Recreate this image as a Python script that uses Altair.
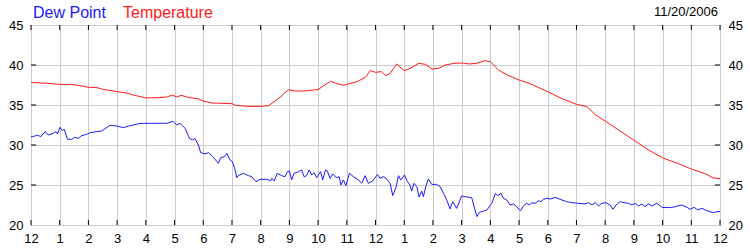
import altair as alt
import pandas as pd

# ---- data (hours since midnight, values in degrees F) ----
TEMP_HOURS = [0, 0.58, 1.0, 1.35, 1.58, 2.0, 2.27, 2.5, 3.0, 3.27, 3.66, 4.0, 4.43, 4.74, 4.92, 5.08, 5.23,
              5.51, 5.81, 6.0, 6.28, 7.0, 7.12, 7.58, 8.0, 8.28, 8.66, 8.97, 9.2, 9.51, 10.0, 10.2, 10.43,
              10.66, 10.89, 11.0, 11.36, 11.66, 11.82, 12.0, 12.2, 12.36, 12.51, 12.74, 13.0, 13.2, 13.51,
              13.74, 13.97, 14.2, 14.43, 14.74, 15.0, 15.28, 15.51, 15.82, 16.0, 16.28, 16.59, 17.0, 17.36,
              17.67, 18.0, 18.43, 19.0, 19.36, 19.67, 20.0, 20.5, 21.0, 21.5, 22.0, 22.6, 23.0, 23.5,
              23.75, 24.0]
TEMP_VALUES = [37.83, 37.71, 37.58, 37.58, 37.5, 37.21, 37.21, 36.96, 36.67, 36.54, 36.17, 35.88, 35.92,
               36.0, 36.25, 36.0, 36.21, 35.92, 35.79, 35.5, 35.25, 35.17, 34.96, 34.83, 34.83, 34.92,
               35.92, 36.92, 36.75, 36.75, 36.92, 37.42, 37.96, 37.67, 37.46, 37.58, 37.92, 38.5, 39.29,
               39.08, 39.17, 38.67, 38.96, 40.13, 39.29, 39.58, 40.21, 40.08, 39.5, 39.58, 40.0, 40.21,
               40.25, 40.13, 40.21, 40.54, 40.42, 39.38, 38.75, 38.13, 37.7, 37.2, 36.67, 35.9, 35.08,
               34.8, 33.75, 33.0, 31.8, 30.6, 29.4, 28.4, 27.6, 27.0, 26.4, 25.9, 25.8]

DEW_HOURS = [0, 0.08, 0.22, 0.34, 0.49, 0.6, 0.78, 0.87, 0.92, 1.01, 1.09, 1.16, 1.27, 1.42, 1.53, 1.65,
             1.77, 1.94, 2.06, 2.29, 2.46, 2.75, 2.98, 3.22, 3.33, 3.45, 3.62, 3.8, 4.15, 4.73, 4.94, 5.08,
             5.19, 5.37, 5.52, 5.63, 5.71, 5.83, 5.91, 6.06, 6.18, 6.33, 6.53, 6.61, 6.74, 6.82, 6.93,
             7.02, 7.11, 7.17, 7.22, 7.4, 7.57, 7.69, 7.84, 7.98, 8.21, 8.35, 8.39, 8.47, 8.58, 8.73,
             8.85, 8.93, 9.0, 9.08, 9.16, 9.28, 9.43, 9.51, 9.6, 9.69, 9.78, 9.86, 9.95, 10.09, 10.16,
             10.26, 10.32, 10.42, 10.51, 10.63, 10.73, 10.8, 10.88, 10.97, 11.09, 11.23, 11.41, 11.52,
             11.64, 11.75, 11.9, 12.07, 12.16, 12.28, 12.39, 12.51, 12.6, 12.72, 12.8, 12.88, 13.01,
             13.11, 13.2, 13.26, 13.34, 13.44, 13.52, 13.61, 13.67, 13.75, 13.84, 13.96, 14.13, 14.25,
             14.37, 14.48, 14.6, 14.69, 14.83, 15.0, 15.18, 15.35, 15.53, 15.62, 15.76, 15.88, 16.05,
             16.18, 16.26, 16.37, 16.46, 16.57, 16.69, 16.81, 16.92, 17.05, 17.18, 17.27, 17.36, 17.44,
             17.56, 17.68, 17.76, 17.85, 17.97, 18.11, 18.26, 18.43, 18.66, 18.84, 19.07, 19.3, 19.42,
             19.54, 19.65, 19.77, 19.88, 20.03, 20.17, 20.27, 20.38, 20.52, 20.66, 20.81, 20.93, 21.05,
             21.16, 21.28, 21.39, 21.51, 21.63, 21.8, 21.98, 22.27, 22.44, 22.67, 22.85, 22.96, 23.1,
             23.22, 23.37, 23.54, 23.77, 23.89, 24.0]
DEW_VALUES = [31.04, 31.04, 31.25, 31.04, 31.67, 31.25, 31.46, 31.67, 31.38, 32.21, 31.79, 31.96, 30.71,
              30.71, 30.96, 30.83, 31.17, 31.33, 31.54, 31.67, 31.75, 32.46, 32.38, 32.17, 32.29, 32.42,
              32.54, 32.71, 32.71, 32.71, 32.96, 32.5, 32.71, 32.08, 30.83, 30.63, 30.83, 30.0, 29.04,
              28.88, 29.04, 28.54, 27.71, 28.42, 28.54, 28.96, 28.13, 27.92, 26.88, 25.92, 26.17, 26.46,
              26.17, 26.04, 25.42, 25.71, 25.71, 25.54, 25.83, 25.5, 26.46, 26.17, 26.04, 26.67, 26.75,
              25.63, 26.46, 26.58, 26.88, 26.04, 26.17, 26.88, 26.25, 26.54, 25.92, 26.67, 25.63, 26.88,
              26.75, 25.83, 26.38, 25.92, 26.04, 25.0, 25.63, 24.92, 26.46, 26.04, 25.63, 25.21, 26.17,
              25.21, 25.5, 26.33, 25.83, 26.04, 25.75, 25.21, 23.67, 24.79, 26.17, 25.63, 26.25, 25.42,
              25.0, 24.25, 25.21, 24.79, 23.5, 24.25, 23.54, 24.79, 25.75, 25.08, 25.08, 24.79, 23.96,
              23.13, 22.0, 22.92, 22.08, 23.63, 23.5, 23.42, 21.04, 21.58, 21.75, 21.88, 22.71, 23.96,
              23.67, 23.96, 23.33, 23.13, 22.5, 22.63, 22.29, 21.79, 22.5, 22.71, 22.5, 22.79, 22.71,
              23.04, 22.92, 23.21, 23.33, 23.25, 23.46, 23.21, 22.92, 22.79, 22.71, 22.63, 22.79, 22.5,
              22.79, 22.38, 22.71, 22.79, 22.5, 21.96, 22.5, 22.92, 22.79, 22.71, 22.5, 22.71, 22.38,
              22.63, 22.29, 22.63, 22.38, 22.71, 22.21, 22.17, 22.29, 22.5, 22.21, 21.96, 22.21, 21.88,
              22.08, 21.79, 21.54, 21.67, 21.67]

SERIES = ["Dew Point", "Temperature"]
SERIES_COLORS = ["#1a1aff", "#ff1a1a"]
HOUR_TICKS = list(range(0, 25))
HOUR_LABELS = ["12"] + [str(i) for i in range(1, 12)] + ["12"] + [str(i) for i in range(1, 12)] + ["12"]
Y_TICKS = [20, 25, 30, 35, 40, 45]
Y_INNER_TICKS = [25, 30, 35, 40]
DATE_TEXT = "11/20/2006"

FONT = "Liberation Sans"
W, H = 689, 200

df = pd.concat([
    pd.DataFrame({"hour": DEW_HOURS, "value": DEW_VALUES, "series": "Dew Point"}),
    pd.DataFrame({"hour": TEMP_HOURS, "value": TEMP_VALUES, "series": "Temperature"}),
])

label_expr = "[" + ",".join("'" + l + "'" for l in HOUR_LABELS) + "][datum.value]"
xscale = alt.Scale(domain=[0, 24], nice=False, zero=False)
yscale = alt.Scale(domain=[20, 45], nice=False, zero=False)

X_AXIS = alt.Axis(values=HOUR_TICKS, labelExpr=label_expr, grid=True, gridColor="#cccccc",
                  ticks=False, domain=False, labelPadding=7, labelFontSize=13,
                  labelFont=FONT, labelColor="#000000", labelFlush=False, labelOverlap=False)
Y_AXIS = alt.Axis(values=Y_TICKS, grid=True, gridColor="#cccccc", ticks=False, domain=False,
                  labelPadding=8, labelFontSize=13, labelFont=FONT, labelColor="#000000",
                  labelOverlap=False)
Y_AXIS_R = alt.Axis(orient="right", values=Y_TICKS, grid=False, ticks=False, domain=False,
                    labelPadding=8, labelFontSize=13, labelFont=FONT, labelColor="#000000",
                    labelOverlap=False)


def xenc(field="hour"):
    return alt.X(field + ":Q", scale=xscale, title=None, axis=X_AXIS)


def yenc(axis):
    return alt.Y("value:Q", scale=yscale, title=None, axis=axis)


lines = alt.Chart(df).mark_line(strokeWidth=1, interpolate="linear").encode(
    x=xenc(),
    y=yenc(Y_AXIS),
    color=alt.Color("series:N", scale=alt.Scale(domain=SERIES, range=SERIES_COLORS), legend=None),
    detail="series:N",
)

hours_df = pd.DataFrame({"hour": HOUR_TICKS})
bottom_ticks = alt.Chart(hours_df).mark_rule(color="black", strokeWidth=1).encode(
    x=xenc(), y=alt.value(H - 5), y2=alt.value(H))
top_ticks = alt.Chart(hours_df).mark_rule(color="black", strokeWidth=1).encode(
    x=xenc(), y=alt.value(0), y2=alt.value(5))

yt_df = pd.DataFrame({"value": Y_INNER_TICKS})
left_ticks = alt.Chart(yt_df).mark_rule(color="black", strokeWidth=1).encode(
    y=yenc(Y_AXIS), x=alt.value(0), x2=alt.value(5))
right_ticks = alt.Chart(yt_df).mark_rule(color="black", strokeWidth=1).encode(
    y=yenc(Y_AXIS), x=alt.value(W - 5), x2=alt.value(W))

main = alt.layer(lines, bottom_ticks, top_ticks, left_ticks, right_ticks)

right_axis = alt.Chart(df).mark_line(opacity=0).encode(
    x=xenc(),
    y=yenc(Y_AXIS_R),
    detail="series:N",
)

t1 = alt.Chart(pd.DataFrame({"t": [SERIES[0]]})).mark_text(
    align="left", baseline="alphabetic", font=FONT, fontSize=16, color=SERIES_COLORS[0]
).encode(text="t:N", x=alt.value(2), y=alt.value(-7))
t2 = alt.Chart(pd.DataFrame({"t": [SERIES[1]]})).mark_text(
    align="left", baseline="alphabetic", font=FONT, fontSize=16, color=SERIES_COLORS[1]
).encode(text="t:N", x=alt.value(92), y=alt.value(-7))
t3 = alt.Chart(pd.DataFrame({"t": [DATE_TEXT]})).mark_text(
    align="right", baseline="alphabetic", font=FONT, fontSize=13, color="#000000"
).encode(text="t:N", x=alt.value(W - 2), y=alt.value(-9))

chart = alt.layer(main, right_axis, t1, t2, t3).resolve_scale(y="independent").properties(
    width=W, height=H,
    autosize=alt.AutoSizeParams(type="none"),
    padding={"left": 31, "top": 25, "right": 30, "bottom": 25},
    background="white",
).configure_view(stroke="black", strokeWidth=1)

chart.save("out.html", embed_options={"renderer": "svg", "actions": False})
